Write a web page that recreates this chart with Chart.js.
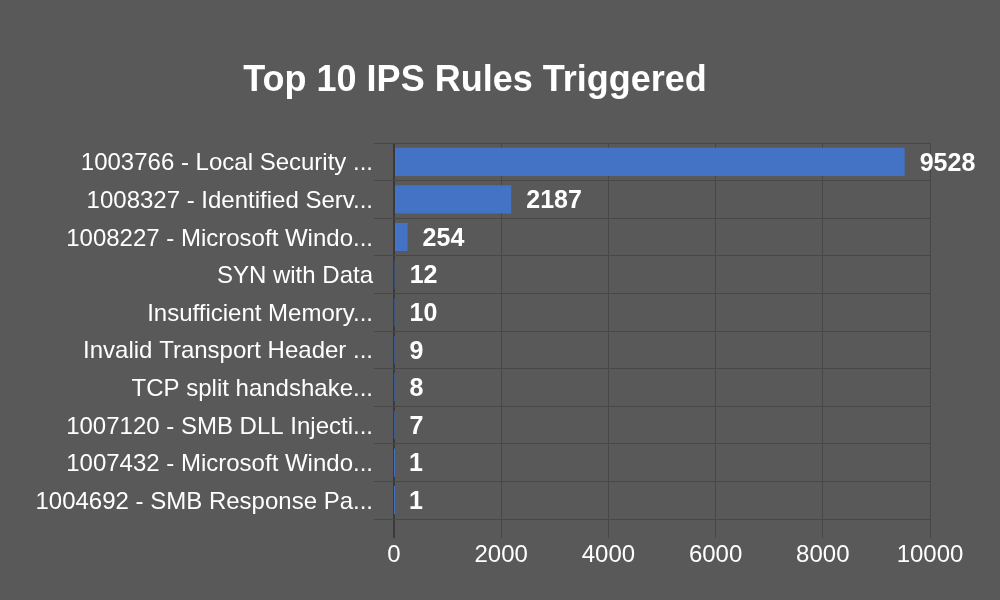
<!DOCTYPE html>
<html>
<head>
<meta charset="utf-8">
<script src="https://cdn.jsdelivr.net/npm/chart.js@4"></script>
<style>
  html, body { margin: 0; padding: 0; background: #595959; }
  #wrap { width: 1000px; height: 600px; }
</style>
</head>
<body>
<div id="wrap"><canvas id="c" width="1000" height="600"></canvas></div>
<script>
const categories = [
  "1003766 - Local Security ...",
  "1008327 - Identified Serv...",
  "1008227 - Microsoft Windo...",
  "SYN with Data",
  "Insufficient Memory...",
  "Invalid Transport Header ...",
  "TCP split handshake...",
  "1007120 - SMB DLL Injecti...",
  "1007432 - Microsoft Windo...",
  "1004692 - SMB Response Pa..."
];
const triggerCounts = [9528, 2187, 254, 12, 10, 9, 8, 7, 1, 1];
const xTicks = [0, 2000, 4000, 6000, 8000, 10000];
const chartTitle = "Top 10 IPS Rules Triggered";

const FONT = "'Liberation Sans', Arial, sans-serif";
const GRID = '#474747';

const valueLabels = {
  id: 'valueLabels',
  afterDatasetsDraw(chart) {
    const ctx = chart.ctx;
    const meta = chart.getDatasetMeta(0);
    ctx.save();
    ctx.font = "bold 25px " + FONT;
    ctx.fillStyle = '#ffffff';
    ctx.textBaseline = 'middle';
    ctx.textAlign = 'left';
    meta.data.forEach((bar, i) => {
      ctx.fillText(String(triggerCounts[i]), bar.x + 15, bar.y + 2);
    });
    ctx.restore();
  }
};

const categoryLabels = {
  id: 'categoryLabels',
  afterDraw(chart) {
    const ctx = chart.ctx;
    const y = chart.scales.y;
    ctx.save();
    ctx.font = "24px " + FONT;
    ctx.fillStyle = '#ffffff';
    ctx.textBaseline = 'middle';
    ctx.textAlign = 'right';
    y.ticks.forEach((t, i) => {
      ctx.fillText(String(y.getLabelForValue(t.value)), 373, y.getPixelForTick(i) + 2);
    });
    ctx.restore();
  }
};

const titlePlugin = {
  id: 'customTitle',
  afterDraw(chart) {
    const ctx = chart.ctx;
    ctx.save();
    ctx.font = "bold 36px " + FONT;
    ctx.fillStyle = '#ffffff';
    ctx.textBaseline = 'middle';
    ctx.textAlign = 'center';
    ctx.fillText(chartTitle, 475, 81);
    ctx.restore();
  }
};

const bgPlugin = {
  id: 'bg',
  beforeDraw(chart) {
    const ctx = chart.ctx;
    ctx.save();
    ctx.fillStyle = '#595959';
    ctx.fillRect(0, 0, chart.width, chart.height);
    ctx.restore();
  }
};

new Chart(document.getElementById('c'), {
  type: 'bar',
  data: {
    labels: categories,
    datasets: [{
      data: triggerCounts,
      backgroundColor: '#4472C4',
      borderWidth: 0,
      categoryPercentage: 1.0,
      barPercentage: 0.75
    }]
  },
  options: {
    indexAxis: 'y',
    responsive: false,
    animation: false,
    devicePixelRatio: 1,
    layout: { padding: { left: 0, right: 70, top: 143, bottom: 0 } },
    plugins: {
      legend: { display: false },
      tooltip: { enabled: false },
      title: { display: false }
    },
    scales: {
      x: {
        min: 0,
        max: 10000,
        afterBuildTicks(scale) { scale.ticks = xTicks.map(v => ({ value: v })); },
        afterFit(scale) { scale.height = 81; },
        grid: {
          color: (c) => (c.tick && c.tick.value === 0) ? '#3a3a3a' : GRID,
          lineWidth: (c) => (c.tick && c.tick.value === 0) ? 2 : 1,
          tickLength: 19,
          drawTicks: true
        },
        border: { display: false },
        ticks: {
          color: '#ffffff',
          font: { family: FONT, size: 24 },
          padding: 3,
          maxRotation: 0,
          callback: (v) => String(v)
        }
      },
      y: {
        afterFit(scale) { scale.width = 394; },
        grid: {
          color: GRID,
          lineWidth: 1,
          tickLength: 20,
          offset: true
        },
        border: { display: false },
        ticks: {
          color: 'rgba(0,0,0,0)',
          font: { family: FONT, size: 24 },
          padding: 1,
          autoSkip: false
        }
      }
    }
  },
  plugins: [bgPlugin, valueLabels, categoryLabels, titlePlugin]
});
</script>
</body>
</html>
